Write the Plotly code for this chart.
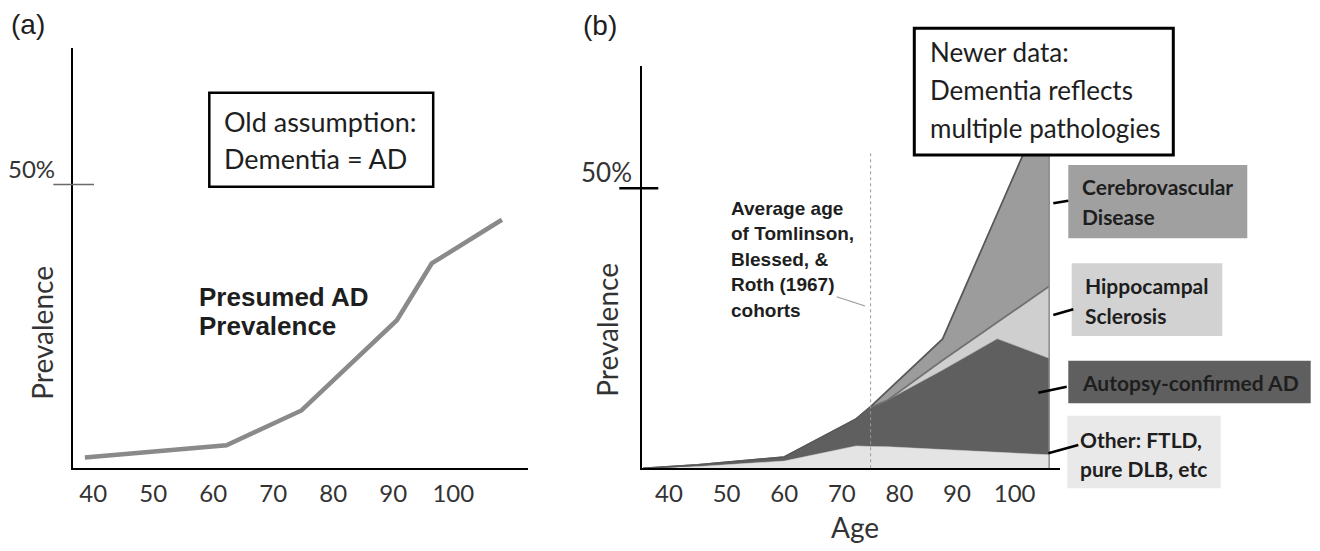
import plotly.graph_objects as go

W, H = 1320, 551

# ---------------- data ----------------
# Panel (a): presumed AD prevalence (% of population) by age
ages_a = [38.6, 62.2, 74.7, 90.6, 96.4, 108.1]
prev_a = [1.9, 4.05, 10.2, 26.1, 36.1, 43.8]

# Panel (b): stacked prevalence by pathology (% of population) by age
ages_b = [35.5, 45, 60, 72.5, 75, 78, 87.5, 97, 106]
other_b = [0, 0.3, 1.3, 4.0, 3.9, 3.85, 3.35, 2.8, 2.4]
ad_b = [0, 0.3, 0.7, 4.8, 7.0, 8.35, 14.15, 20.3, 17.2]
hippo_b = [0, 0, 0, 0, 0, 0, 1.8, 3.0, 12.9]
cereb_b = [0, 0, 0, 0, 0.1, 1.7, 3.8, 19.4, 34.2]

cohort_age = 75          # average age of Tomlinson, Blessed & Roth (1967) cohorts
cohort_line_top = 56.8   # top of the dotted marker (%)
tick_vals = [40, 50, 60, 70, 80, 90, 100]
tick_text = ["40", "50", "60", "70", "80", "90", "100"]
ref_level = 50           # the 50% mark on the y axes

# ---------------- helpers ----------------
def px(x):
    return x / W

def py(y):
    return 1 - y / H

TXT = "#1e1e1e"
CAL = "Lato"
ARIAL = "Liberation Sans"

fig = go.Figure()

# Panel (a) line
fig.add_trace(go.Scatter(x=ages_a, y=prev_a, mode="lines",
                         line=dict(color="#8a8a8a", width=4.5),
                         xaxis="x", yaxis="y", showlegend=False, hoverinfo="skip"))

# Panel (b) stacked areas
stack_specs = [
    (other_b, "#e4e4e4", "#d4d4d4", 0.5),
    (ad_b, "#5f5f5f", "#5f5f5f", 0.5),
    (hippo_b, "#cfcfcf", "#727272", 1.8),
    (cereb_b, "#9c9c9c", "#585858", 1.8),
]
for vals, fill, lc, lw in stack_specs:
    fig.add_trace(go.Scatter(x=ages_b, y=vals, mode="lines", stackgroup="b",
                             fillcolor=fill, line=dict(color=lc, width=lw),
                             xaxis="x2", yaxis="y2", showlegend=False, hoverinfo="skip"))

total_last = other_b[-1] + ad_b[-1] + hippo_b[-1] + cereb_b[-1]

axis_common = dict(showgrid=False, zeroline=False, showline=True,
                   linecolor="black", linewidth=2, ticks="", fixedrange=True)

fig.update_layout(
    width=W, height=H, margin=dict(l=0, r=0, t=0, b=0),
    paper_bgcolor="white", plot_bgcolor="white",
    xaxis=dict(domain=[px(73.3), px(528.3)], range=[36.67, 112.5], anchor="y",
               tickvals=tick_vals, ticktext=tick_text,
               tickfont=dict(family=CAL, size=24, color="#333333"),
               ticklabelstandoff=3, **axis_common),
    yaxis=dict(domain=[py(468.3), py(48)], range=[0, 74.07], anchor="x",
               showticklabels=False, **axis_common),
    xaxis2=dict(domain=[px(641.7), px(1060)], range=[35.26, 107.88], anchor="y2",
                tickvals=tick_vals, ticktext=tick_text,
                tickfont=dict(family=CAL, size=24, color="#333333"),
                ticklabelstandoff=3, **axis_common),
    yaxis2=dict(domain=[py(468.3), py(65.7)], range=[0, 71.89], anchor="x2",
                showticklabels=False, **axis_common),
)

shapes = []
# 50% tick marks
shapes.append(dict(type="line", xref="paper", yref="y", x0=px(53.3), x1=px(94),
                   y0=ref_level, y1=ref_level, line=dict(color="#6a6a6a", width=1.5)))
shapes.append(dict(type="line", xref="paper", yref="y2", x0=px(619.3), x1=px(658.3),
                   y0=ref_level, y1=ref_level, line=dict(color="black", width=2.5)))
# cohort dotted line
shapes.append(dict(type="line", xref="x2", yref="y2", x0=cohort_age, x1=cohort_age,
                   y0=0, y1=cohort_line_top, line=dict(color="#9a9a9a", width=1, dash="dot")))
# right edge of stacked areas
shapes.append(dict(type="line", xref="x2", yref="y2", x0=ages_b[-1], x1=ages_b[-1],
                   y0=0, y1=total_last, line=dict(color="#8a8a8a", width=1.5)))
# text boxes
shapes.append(dict(type="rect", xref="paper", yref="paper",
                   x0=px(209.3), x1=px(433.2), y0=py(186.7), y1=py(92.7),
                   line=dict(color="black", width=2.5), fillcolor="white"))
shapes.append(dict(type="rect", xref="paper", yref="paper",
                   x0=px(914.3), x1=px(1173.3), y0=py(155), y1=py(28.3),
                   line=dict(color="black", width=3), fillcolor="white"))
# legend boxes for panel (b)
legend_boxes = [
    (1068.3, 1247.3, 165, 238.3, "#a0a0a0"),
    (1071.7, 1222.3, 263.3, 336, "#d2d2d2"),
    (1068.3, 1310.7, 360.7, 403.3, "#5f5f5f"),
    (1067.3, 1220.7, 415.7, 488.3, "#e9e9e9"),
]
for x0, x1, y0, y1, c in legend_boxes:
    shapes.append(dict(type="rect", xref="paper", yref="paper", x0=px(x0), x1=px(x1),
                       y0=py(y1), y1=py(y0), line=dict(width=0), fillcolor=c, layer="below"))
# leader lines
leaders = [
    (1053.3, 203.3, 1068.3, 200.7, "black", 2.5),
    (1053.3, 315, 1073.3, 309.3, "black", 2.5),
    (1038.3, 392.7, 1066.7, 386.7, "black", 2.5),
    (1048.3, 453.3, 1078.3, 445, "black", 2.5),
    (836.7, 296.7, 865, 306, "#9a9a9a", 1.2),
]
for x0, y0, x1, y1, c, w in leaders:
    shapes.append(dict(type="line", xref="paper", yref="paper", x0=px(x0), y0=py(y0),
                       x1=px(x1), y1=py(y1), line=dict(color=c, width=w)))
fig.update_layout(shapes=shapes)

ann = []

def text(x, y, s, size, family=CAL, weight="normal", xanchor="left", color=TXT, angle=0):
    ann.append(dict(xref="paper", yref="paper", x=px(x), y=py(y), text=s, showarrow=False,
                    xanchor=xanchor, yanchor="middle", textangle=angle,
                    font=dict(family=family, size=size, color=color, weight=weight)))

text(9, 24, "(a)", 28, family=ARIAL)
text(581, 25, "(b)", 28, family=ARIAL)
text(57.3, 168.3, "50%", 24, xanchor="right", color="#333333")
text(634, 171.7, "50%", 26, xanchor="right", color="#333333")
text(41.7, 333, "Prevalence", 28, xanchor="center", color="#333333", angle=-90)
text(606.7, 330, "Prevalence", 28, xanchor="center", color="#333333", angle=-90)
text(855, 527, "Age", 28, xanchor="center", color="#333333")

text(222, 121, "Old assumption:", 27)
text(222, 158.5, "Dementia = AD", 27)
text(196.7, 297, "Presumed AD", 26, family=ARIAL, weight="bold")
text(196.7, 326, "Prevalence", 26, family=ARIAL, weight="bold")

text(928.3, 51.7, "Newer data:", 26)
text(928.3, 90, "Dementia reflects", 26)
text(928.3, 128.3, "multiple pathologies", 26)

for i, s in enumerate(["Average age", "of Tomlinson,", "Blessed, &", "Roth (1967)", "cohorts"]):
    text(729.3, 208.3 + 25.5 * i, s, 19, family=ARIAL, weight="bold")

text(1080, 186.7, "Cerebrovascular", 21, weight="bold")
text(1080, 216.7, "Disease", 21, weight="bold")
text(1083.3, 285, "Hippocampal", 21, weight="bold")
text(1083.3, 315, "Sclerosis", 21, weight="bold")
text(1080, 382.3, "Autopsy-confirmed AD", 21, weight="bold")
text(1078.3, 440, "Other: FTLD,", 21, weight="bold")
text(1078.3, 468.3, "pure DLB, etc", 21, weight="bold")

fig.update_layout(annotations=ann)
fig.write_html("out.html")
